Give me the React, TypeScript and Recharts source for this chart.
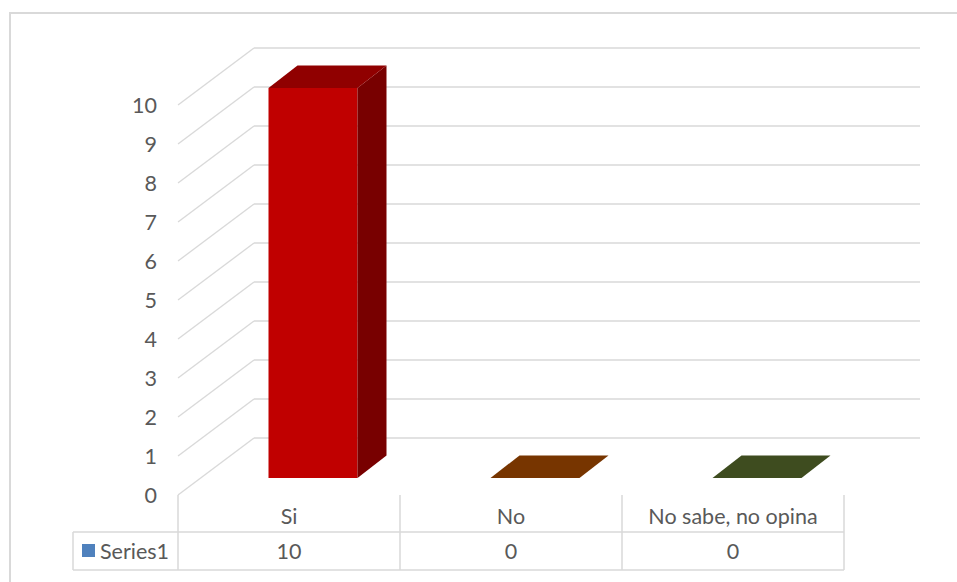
import { BarChart, Bar, XAxis, YAxis, CartesianGrid, Cell } from 'recharts';

const categories = ['Si', 'No', 'No sabe, no opina'];
const series1 = [10, 0, 0];
const yTicks = [0, 1, 2, 3, 4, 5, 6, 7, 8, 9, 10];
const seriesName = 'Series1';

const data = categories.map((name, i) => ({ name, value: series1[i] }));

// front / top / side shades per bar
const FRONT = ['#C00000', '#7A3A00', '#3F4F20'];
const TOP = ['#900000', '#773500', '#3E4C1F'];
const SIDE = ['#780000', '#5C2800', '#2F3B17'];

const FONT = 'Lato, "Noto Sans", sans-serif';
const FS = 21.5;
const TEXT = '#595959';
const GRID = '#D9D9D9';

const WALL = { dx: 76, dy: -57 };      // back wall offset from front plane
const BAR_OFF = { dx: 23.5, dy: -17 }; // bar front face offset
const BAR_DEPTH = { dx: 29, dy: -22.5 };
const PLOT_BOTTOM = 495;
const CELL_W = 222;
const X_AXIS_H = 60;

function GridLine(p: any) {
  const { x1, y1, x2 } = p;
  return (
    <g key={p.key}>
      <line x1={x1} y1={y1} x2={x1 + WALL.dx} y2={y1 + WALL.dy} stroke={GRID} strokeWidth={1.3} />
      <line x1={x1 + WALL.dx} y1={y1 + WALL.dy} x2={x2 + WALL.dx} y2={y1 + WALL.dy} stroke={GRID} strokeWidth={1.3} />
    </g>
  );
}

function Box3D(props: any) {
  const { x, y, width, height, index } = props;
  const x0 = x + BAR_OFF.dx;
  const y0 = y + BAR_OFF.dy;
  const x1 = x0 + width;
  const y1 = y0 + height;
  const { dx, dy } = BAR_DEPTH;
  return (
    <g>
      {height > 0 && <rect x={x0} y={y0} width={width} height={height} fill={FRONT[index]} />}
      {height > 0 && (
        <polygon points={`${x1},${y0} ${x1 + dx},${y0 + dy} ${x1 + dx},${y1 + dy} ${x1},${y1}`} fill={SIDE[index]} />
      )}
      <polygon points={`${x0},${y0} ${x1},${y0} ${x1 + dx},${y0 + dy} ${x0 + dx},${y0 + dy}`} fill={TOP[index]} />
    </g>
  );
}

function YTick(props: any) {
  const { y, payload } = props;
  return (
    <text x={157} y={y} dy="0.36em" textAnchor="end" fill={TEXT} fontSize={FS} fontFamily={FONT}>
      {payload.value}
    </text>
  );
}

function TableTick(props: any) {
  const { x, payload } = props;
  const i = payload.index;
  const left = x - CELL_W / 2;
  const right = x + CELL_W / 2;
  const rowTop = PLOT_BOTTOM;
  const rowMid = 532;
  const rowBot = 570;
  const line = { stroke: GRID, strokeWidth: 1.5 };
  return (
    <g>
      <text x={x} y={516} dy="0.36em" textAnchor="middle" fill={TEXT} fontSize={FS} fontFamily={FONT}>
        {payload.value}
      </text>
      <text x={x} y={551} dy="0.36em" textAnchor="middle" fill={TEXT} fontSize={FS} fontFamily={FONT}>
        {series1[i]}
      </text>
      <line x1={right} y1={rowTop} x2={right} y2={rowBot} {...line} />
      <line x1={left} y1={rowMid} x2={right} y2={rowMid} {...line} />
      <line x1={left} y1={rowBot} x2={right} y2={rowBot} {...line} />
      {i === 0 && (
        <g>
          <line x1={left} y1={rowTop} x2={left} y2={rowBot} {...line} />
          <line x1={73} y1={rowMid} x2={left} y2={rowMid} {...line} />
          <line x1={73} y1={rowBot} x2={left} y2={rowBot} {...line} />
          <line x1={73} y1={rowMid} x2={73} y2={rowBot} {...line} />
          <rect x={82} y={544} width={13} height={13} fill="#4F81BD" />
          <text x={100} y={551} dy="0.36em" textAnchor="start" fill={TEXT} fontSize={FS} fontFamily={FONT}>
            {seriesName}
          </text>
        </g>
      )}
    </g>
  );
}

export default function App() {
  return (
    <div style={{ position: 'absolute', left: 0, top: 0, width: 957, height: 582, overflow: 'hidden', background: '#fff' }}>
      <div
        style={{
          position: 'absolute', left: 9, top: 12, right: -10, bottom: -10,
          borderTop: `2px solid ${GRID}`, borderLeft: `2px solid ${GRID}`,
        }}
      />
      <BarChart
        width={957}
        height={582}
        data={data}
        margin={{ top: 105, right: 113, bottom: 582 - PLOT_BOTTOM - X_AXIS_H, left: 118 }}
        barSize={89}
      >
        <CartesianGrid vertical={false} horizontal={GridLine} />
        <XAxis dataKey="name" axisLine={false} tickLine={false} tick={TableTick} interval={0} height={X_AXIS_H} />
        <YAxis
          domain={[0, 10]}
          ticks={yTicks}
          axisLine={false}
          tickLine={false}
          tick={YTick}
          width={60}
          interval={0}
        />
        <Bar dataKey="value" isAnimationActive={false} shape={Box3D}>
          {data.map((d, i) => <Cell key={d.name} fill={FRONT[i]} />)}
        </Bar>
      </BarChart>
    </div>
  );
}
